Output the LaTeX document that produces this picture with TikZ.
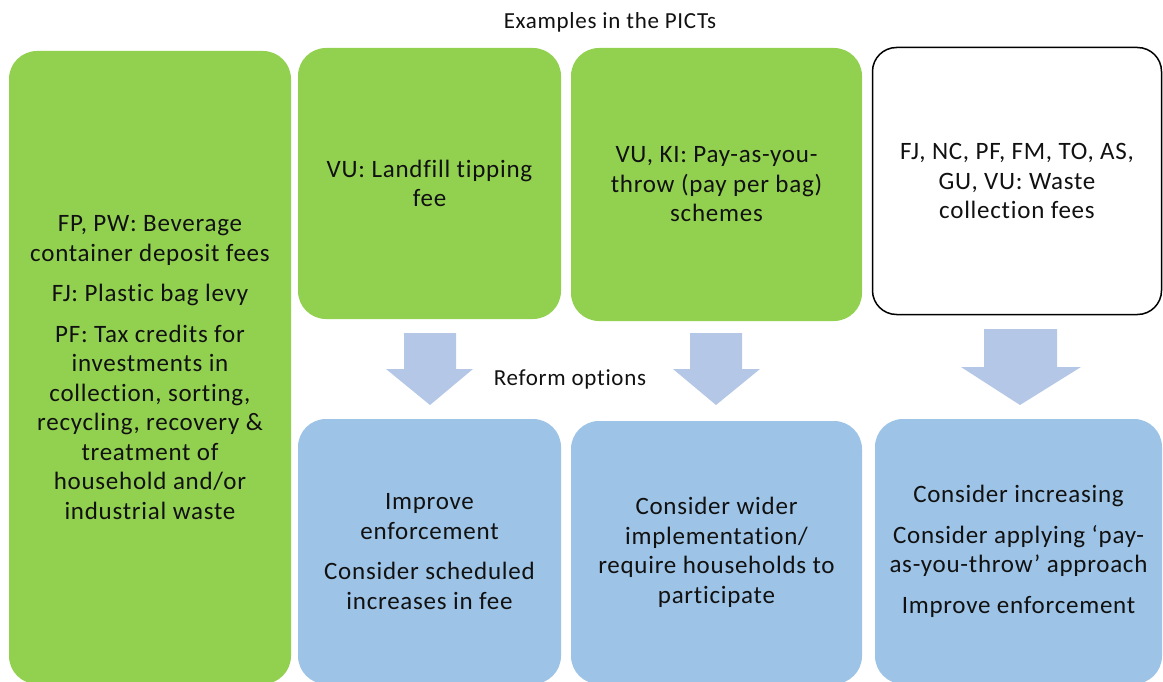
\documentclass[tikz,border=0pt]{standalone}
\usepackage{fontspec}
\setmainfont{Carlito}[LetterSpace=3,Ligatures={NoCommon}]
\definecolor{grn}{HTML}{92D050}
\definecolor{blu}{HTML}{9DC3E6}
\definecolor{arr}{HTML}{B4C7E7}
\definecolor{txt}{HTML}{111111}
\begin{document}
\begin{tikzpicture}[x=1pt,y=-1pt,
  box/.style={rounded corners=28pt, align=center, inner sep=0pt, text=txt,
    font=\fontsize{25}{29.5}\selectfont},
  greenbox/.style={box, fill=grn},
  bluebox/.style={box, fill=blu},
  whitebox/.style={box, fill=white, draw=black, line width=1.5pt, rounded corners=24pt},
  label/.style={text=txt, font=\fontsize{23}{26}\selectfont},
  blockarrow/.style={fill=arr}]
\useasboundingbox (0,0) rectangle (1163,682);

\node[label] (title) at (610,22) {Examples in the PICTs};
\node[label] (reform) at (570,379) {Reform options};

\node[greenbox, minimum width=282pt, minimum height=633pt] (b1) at (150,367.5)
 {FP, PW: Beverage\\container deposit fees\\[11pt]FJ: Plastic bag levy\\[11pt]PF: Tax credits for\\investments in\\collection, sorting,\\recycling, recovery \&\\treatment of\\household and/or\\industrial waste};
\node[greenbox, minimum width=263pt, minimum height=271pt] (b2) at (429.5,183.5)
 {VU: Landfill tipping\\fee};
\node[greenbox, minimum width=291pt, minimum height=273pt] (b3) at (716.5,184.5)
 {VU, KI: Pay-as-you-\\throw (pay per bag)\\schemes};
\node[whitebox, minimum width=289pt, minimum height=267pt] (b4) at (1017,181)
 {FJ, NC, PF, FM, TO, AS,\\GU, VU: Waste\\collection fees};

\node[bluebox, minimum width=263pt, minimum height=265pt] (b5) at (429.5,551.5)
 {Improve\\enforcement\\[11pt]Consider scheduled\\increases in fee};
\node[bluebox, minimum width=291pt, minimum height=263pt] (b6) at (716.5,552.5)
 {Consider wider\\implementation/\\require households to\\participate};
\node[bluebox, minimum width=287pt, minimum height=265pt] (b7) at (1018.5,551.5)
 {Consider increasing\\[11pt]Consider applying ‘pay-\\as-you-throw’ approach\\[11pt]Improve enforcement};

% block arrows
\fill[blockarrow] (404,333) -- (456,333) -- (456,369) -- (473,369) -- (430,405) -- (386,369) -- (404,369) -- cycle;
\fill[blockarrow] (690,333) -- (742,333) -- (742,369) -- (760,369) -- (716,405) -- (673,369) -- (690,369) -- cycle;
\fill[blockarrow] (984,329) -- (1057,329) -- (1057,367) -- (1081,367) -- (1020,405) -- (961,367) -- (984,367) -- cycle;
\end{tikzpicture}
\end{document}
